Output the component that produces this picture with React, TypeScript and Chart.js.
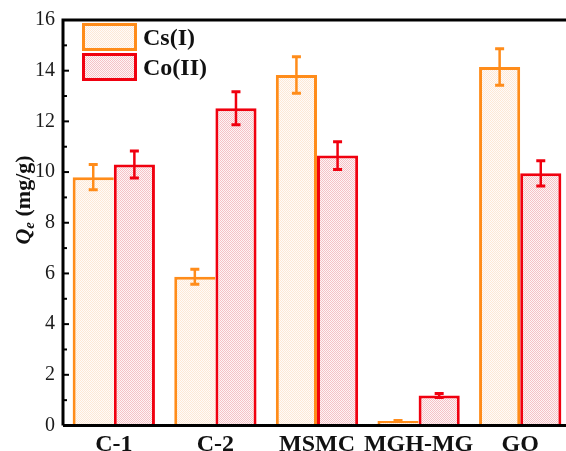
import React, { useEffect, useRef } from 'react';
import { Chart, registerables } from 'chart.js';

Chart.register(...registerables);

const categories = ['C-1', 'C-2', 'MSMC', 'MGH-MG', 'GO'];
const seriesLabels = ['Cs(I)', 'Co(II)'];
const csValues = [9.8, 5.87, 13.83, 0.18, 14.15];
const csErrors = [0.5, 0.3, 0.72, 0.02, 0.72];
const coValues = [10.3, 12.52, 10.65, 1.18, 9.95];
const coErrors = [0.53, 0.65, 0.55, 0.08, 0.5];
const yMin = 0;
const yMax = 16;
const yStep = 2;
const yTitleMain = 'Q';
const yTitleSub = 'e';
const yTitleUnit = ' (mg/g)';

const SERIF = '"Liberation Serif", "Times New Roman", serif';
const ORANGE = '#FF8C1A';
const RED = '#F0000F';

function makePattern(dot: string, light: string) {
  const c = document.createElement('canvas');
  c.width = 2;
  c.height = 2;
  const x = c.getContext('2d')!;
  x.fillStyle = light;
  x.fillRect(0, 0, 2, 2);
  x.fillStyle = dot;
  x.fillRect(0, 0, 1, 1);
  x.fillRect(1, 1, 1, 1);
  return x.createPattern(c, 'repeat')!;
}

export default function App() {
  const ref = useRef<HTMLCanvasElement | null>(null);

  useEffect(() => {
    if (!ref.current) return;
    const csFill = makePattern('#FDE8D6', '#FFFBF8');
    const coFill = makePattern('#F5C2C6', '#FEF4F5');
    const errors = [csErrors, coErrors];

    const plugin = {
      id: 'custom',
      afterDatasetsDraw(chart: any) {
        const ctx = chart.ctx;
        const ys = chart.scales.y;
        chart.data.datasets.forEach((ds: any, i: number) => {
          const meta = chart.getDatasetMeta(i);
          meta.data.forEach((el: any, j: number) => {
            const v = ds.data[j];
            const e = errors[i][j];
            const top = ys.getPixelForValue(v + e);
            const bot = ys.getPixelForValue(v - e);
            ctx.save();
            ctx.strokeStyle = ds.borderColor;
            ctx.lineWidth = 2.5;
            ctx.beginPath();
            ctx.moveTo(el.x, top);
            ctx.lineTo(el.x, bot);
            ctx.stroke();
            ctx.lineWidth = 3;
            ctx.beginPath();
            ctx.moveTo(el.x - 4.5, top);
            ctx.lineTo(el.x + 4.5, top);
            ctx.moveTo(el.x - 4.5, bot);
            ctx.lineTo(el.x + 4.5, bot);
            ctx.stroke();
            ctx.restore();
          });
        });
      },
      afterDraw(chart: any) {
        const ctx = chart.ctx;
        const a = chart.chartArea;
        const ys = chart.scales.y;
        ctx.save();
        // frame
        ctx.strokeStyle = '#000';
        ctx.lineWidth = 3;
        ctx.beginPath();
        ctx.moveTo(a.left, a.bottom);
        ctx.lineTo(a.left, a.top);
        ctx.lineTo(a.right, a.top);
        ctx.lineTo(a.right, a.bottom);
        ctx.lineTo(a.left, a.bottom);
        ctx.stroke();
        // inward ticks
        ctx.lineWidth = 2;
        for (let v = yMin; v <= yMax; v += 1) {
          const y = ys.getPixelForValue(v);
          const len = v % yStep === 0 ? 6 : 4;
          ctx.beginPath();
          ctx.moveTo(a.left, y);
          ctx.lineTo(a.left + len, y);
          ctx.stroke();
        }
        // legend
        const fills = [csFill, coFill];
        chart.data.datasets.forEach((ds: any, i: number) => {
          const bx = 83.5;
          const by = 24.5 + i * 30;
          ctx.fillStyle = fills[i];
          ctx.fillRect(bx, by, 52, 25);
          ctx.strokeStyle = ds.borderColor;
          ctx.lineWidth = 3;
          ctx.strokeRect(bx, by, 52, 25);
          ctx.fillStyle = '#111';
          ctx.font = 'bold 24px ' + SERIF;
          ctx.textAlign = 'left';
          ctx.textBaseline = 'middle';
          ctx.fillText(ds.label, 143, by + 14);
        });
        // y title
        ctx.translate(30, 200);
        ctx.rotate(-Math.PI / 2);
        ctx.fillStyle = '#111';
        ctx.textBaseline = 'alphabetic';
        ctx.textAlign = 'left';
        const fMain = 'bold italic 22px ' + SERIF;
        const fSub = 'bold italic 15px ' + SERIF;
        const fUnit = 'bold 22px ' + SERIF;
        ctx.font = fMain;
        const w1 = ctx.measureText(yTitleMain).width;
        ctx.font = fSub;
        const w2 = ctx.measureText(yTitleSub).width;
        ctx.font = fUnit;
        const w3 = ctx.measureText(yTitleUnit).width;
        let x = -(w1 + w2 + w3) / 2;
        ctx.font = fMain;
        ctx.fillText(yTitleMain, x, 0);
        x += w1;
        ctx.font = fSub;
        ctx.fillText(yTitleSub, x, 4);
        x += w2;
        ctx.font = fUnit;
        ctx.fillText(yTitleUnit, x, 0);
        ctx.restore();
      },
    };

    const chart = new Chart(ref.current, {
      type: 'bar',
      data: {
        labels: categories,
        datasets: [
          {
            label: seriesLabels[0],
            data: csValues,
            backgroundColor: csFill,
            borderColor: ORANGE,
            borderWidth: (c: any) =>
              csValues[c.dataIndex] > coValues[c.dataIndex]
                ? 3
                : { top: 3, left: 3, right: 0, bottom: 3 },
          },
          {
            label: seriesLabels[1],
            data: coValues,
            backgroundColor: coFill,
            borderColor: RED,
            borderWidth: 3,
          },
        ],
      },
      options: {
        animation: false,
        responsive: false,
        maintainAspectRatio: false,
        layout: { padding: { top: 16, right: 1, left: 0, bottom: 0 } },
        datasets: { bar: { categoryPercentage: 0.81, barPercentage: 1.0 } },
        plugins: { legend: { display: false }, tooltip: { enabled: false } },
        scales: {
          x: {
            grid: { display: false, drawTicks: false },
            border: { display: false },
            ticks: {
              font: { family: SERIF, size: 24, weight: 'bold' },
              color: '#111',
              padding: 5,
              maxRotation: 0,
              minRotation: 0,
              autoSkip: false,
            },
            afterFit: (s: any) => {
              s.height = 25.5;
            },
          },
          y: {
            min: yMin,
            max: yMax,
            grid: { display: false, drawTicks: false },
            border: { display: false },
            ticks: {
              stepSize: yStep,
              font: { family: SERIF, size: 20 },
              color: '#1a1a1a',
              padding: 8,
            },
            afterFit: (s: any) => {
              s.width = 63;
            },
          },
        },
      },
      plugins: [plugin],
    } as any);
    return () => chart.destroy();
  }, []);

  return (
    <div
      style={{
        position: 'fixed',
        left: 0,
        top: 0,
        width: 566,
        height: 451,
        overflow: 'hidden',
        background: '#fff',
      }}
    >
      <canvas ref={ref} width={572} height={451} style={{ display: 'block' }} />
    </div>
  );
}
